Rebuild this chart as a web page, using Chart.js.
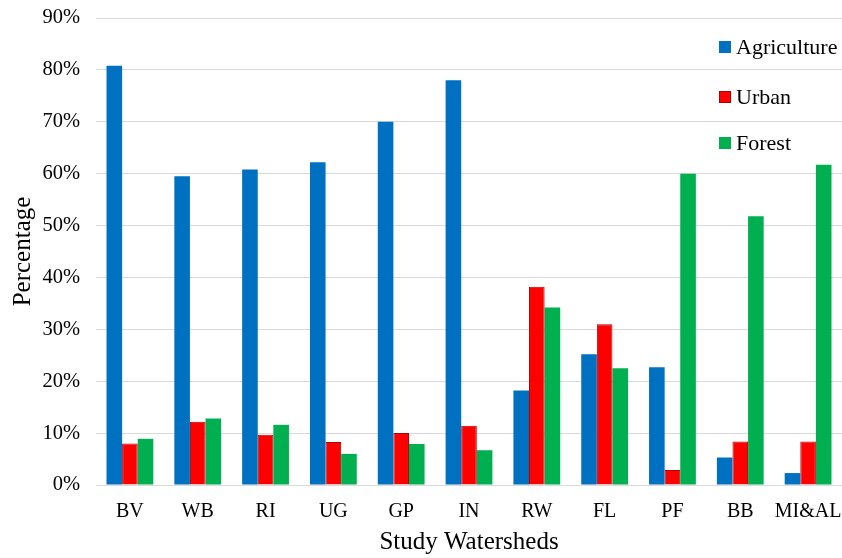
<!DOCTYPE html>
<html>
<head>
<meta charset="utf-8">
<script src="https://cdn.jsdelivr.net/npm/chart.js@4"></script>
<style>
  html, body { margin: 0; padding: 0; background: #fff; }
  #wrap { width: 842px; height: 558px; position: relative; }
</style>
</head>
<body>
<div id="wrap"><canvas id="c" width="842" height="558"></canvas></div>
<script>
// Land use share per study watershed (%)
const watersheds = ['BV', 'WB', 'RI', 'UG', 'GP', 'IN', 'RW', 'FL', 'PF', 'BB', 'MI&AL'];
const agriculture = [80.8, 59.5, 60.8, 62.2, 70.0, 78.0, 18.2, 25.2, 22.7, 5.3, 2.3];
const urban       = [8.0, 12.2, 9.7, 8.3, 10.0, 11.4, 38.2, 31.0, 2.9, 8.4, 8.4];
const forest      = [8.9, 12.8, 11.6, 6.0, 7.9, 6.7, 34.2, 22.5, 60.0, 51.8, 61.7];
const yTicks = [0, 10, 20, 30, 40, 50, 60, 70, 80, 90];

const serif = '"Liberation Serif", "Times New Roman", serif';

// Legend drawn inside the plot area, stacked on the right
const insideLegend = {
  id: 'insideLegend',
  afterDraw(chart) {
    const ctx = chart.ctx;
    const items = chart.data.datasets;
    const rows = [47, 97, 143];
    ctx.save();
    ctx.font = '22px ' + serif;
    ctx.textBaseline = 'middle';
    ctx.textAlign = 'left';
    items.forEach((ds, i) => {
      const y = rows[i];
      ctx.fillStyle = ds.backgroundColor;
      ctx.fillRect(719, y - 6, 12, 12);
      if (ds.borderWidth) {
        ctx.strokeStyle = ds.borderColor;
        ctx.lineWidth = 1;
        ctx.strokeRect(719.5, y - 5.5, 11, 11);
      }
      ctx.fillStyle = '#000';
      ctx.fillText(ds.label, 736, y + 1);
    });
    ctx.restore();
  }
};

new Chart(document.getElementById('c'), {
  type: 'bar',
  data: {
    labels: watersheds,
    datasets: [
      { label: 'Agriculture', data: agriculture, backgroundColor: '#0070C0', borderWidth: 0 },
      { label: 'Urban', data: urban, backgroundColor: '#FF0000', borderColor: '#B00000', borderWidth: 1 },
      { label: 'Forest', data: forest, backgroundColor: '#00B050', borderWidth: 0 }
    ]
  },
  options: {
    responsive: false,
    animation: false,
    devicePixelRatio: 1,
    layout: { padding: { top: 18, right: 0, left: 0, bottom: 0 } },
    datasets: { bar: { categoryPercentage: 0.69, barPercentage: 1.0 } },
    plugins: {
      legend: { display: false },
      tooltip: { enabled: false }
    },
    scales: {
      x: {
        grid: { display: false, drawTicks: false },
        border: { display: true, color: '#d9d9d9', width: 1 },
        ticks: { color: '#000', font: { family: serif, size: 20 }, padding: 15, maxRotation: 0, minRotation: 0, autoSkip: false },
        title: { display: true, text: 'Study Watersheds', color: '#000', font: { family: serif, size: 25 }, padding: { top: 0, bottom: 1 } },
        afterFit(s) { s.height = 73; s.paddingLeft = 0; s.paddingRight = 0; }
      },
      y: {
        min: 0,
        max: 90,
        afterBuildTicks(s) { s.ticks = yTicks.map(v => ({ value: v })); },
        grid: { color: '#d9d9d9', lineWidth: 1, drawTicks: false },
        border: { display: false },
        ticks: { color: '#000', font: { family: serif, size: 20.5 }, padding: 16, callback: v => v + '%' },
        title: { display: true, text: 'Percentage', color: '#000', font: { family: serif, size: 25 }, padding: { top: 8, bottom: 0 } },
        afterFit(s) { s.width = 96; s.paddingTop = 0; s.paddingBottom = 0; }
      }
    }
  },
  plugins: [insideLegend]
});
</script>
</body>
</html>
